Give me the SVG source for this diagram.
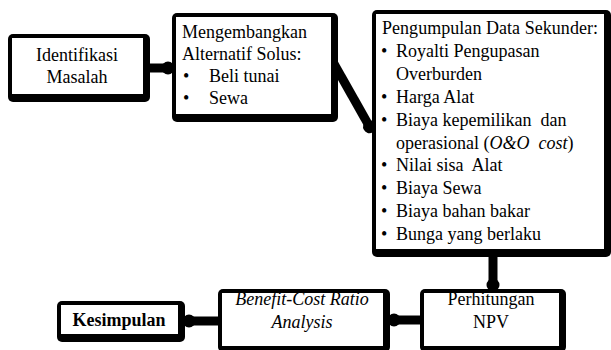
<svg xmlns="http://www.w3.org/2000/svg" width="611" height="350" viewBox="0 0 611 350">
<style>
.frame{fill:#000}
.inner{fill:#fff}
.t{font-family:'Liberation Serif','Times New Roman',serif;font-size:18px;fill:#000}
.c{text-anchor:middle}
.conn{stroke:#000;stroke-width:9;fill:none}
</style>
<defs>
<marker id="dot" viewBox="-7 -7 14 14" refX="5" refY="0" markerWidth="14" markerHeight="14" markerUnits="userSpaceOnUse" orient="auto">
<circle cx="0" cy="0" r="6.5" fill="#000"/>
</marker>
</defs>
<rect width="611" height="350" fill="#fff"/>
<g id="connectors">
<line class="conn" x1="150" y1="68" x2="173" y2="68" marker-end="url(#dot)"/>
<line class="conn" x1="333" y1="62" x2="372" y2="131" marker-end="url(#dot)"/>
<line class="conn" x1="493" y1="254" x2="493" y2="290" marker-end="url(#dot)"/>
<line class="conn" x1="421" y1="320" x2="389" y2="320" marker-end="url(#dot)"/>
<line class="conn" x1="219" y1="321" x2="184" y2="321" marker-end="url(#dot)"/>
</g>
<g id="identifikasi" class="t">
<rect class="frame" x="8" y="34" width="142" height="68" rx="5"/>
<rect class="inner" x="12" y="38" width="131" height="56"/>
<text class="c" x="77" y="61">Identifikasi</text>
<text class="c" x="77" y="83">Masalah</text>
</g>
<g id="mengembangkan" class="t">
<rect class="frame" x="172" y="13" width="166" height="109" rx="5"/>
<rect class="inner" x="176" y="17" width="155" height="97"/>
<text x="182" y="38">Mengembangkan</text>
<text x="182" y="60">Alternatif Solus:</text>
<text x="183" y="82">•</text>
<text x="209" y="82">Beli tunai</text>
<text x="183" y="104">•</text>
<text x="209" y="104">Sewa</text>
</g>
<g id="pengumpulan" class="t">
<rect class="frame" x="372" y="10" width="239" height="247" rx="5"/>
<rect class="inner" x="376" y="14" width="228" height="235"/>
<text x="382" y="34" textLength="216" lengthAdjust="spacing">Pengumpulan Data Sekunder:</text>
<text x="381" y="57">•</text><text x="396" y="57">Royalti Pengupasan</text>
<text x="396" y="80">Overburden</text>
<text x="381" y="103">•</text><text x="396" y="103">Harga Alat</text>
<text x="381" y="126">•</text><text x="396" y="126" xml:space="preserve">Biaya kepemilikan  dan</text>
<text x="396" y="149" xml:space="preserve">operasional (<tspan font-style="italic">O&amp;O  cost</tspan>)</text>
<text x="381" y="171">•</text><text x="396" y="171" xml:space="preserve">Nilai sisa  Alat</text>
<text x="381" y="194">•</text><text x="396" y="194">Biaya Sewa</text>
<text x="381" y="217">•</text><text x="396" y="217">Biaya bahan bakar</text>
<text x="381" y="240">•</text><text x="396" y="240">Bunga yang berlaku</text>
</g>
<g id="npv" class="t">
<rect class="frame" x="420" y="289" width="146" height="63" rx="5"/>
<rect class="inner" x="424" y="293" width="135" height="53"/>
<text class="c" x="491" y="305">Perhitungan</text>
<text class="c" x="491" y="328">NPV</text>
</g>
<g id="bcr" class="t">
<rect class="frame" x="218" y="289" width="172" height="63" rx="5"/>
<rect class="inner" x="222" y="293" width="161" height="53"/>
<text class="c" x="302" y="305" font-style="italic">Benefit-Cost Ratio</text>
<text class="c" x="302" y="328" font-style="italic">Analysis</text>
</g>
<g id="kesimpulan" class="t">
<rect class="frame" x="57" y="301" width="128" height="41" rx="5"/>
<rect class="inner" x="61" y="305" width="117" height="29"/>
<text class="c" x="119" y="326" font-weight="bold">Kesimpulan</text>
</g>
</svg>
